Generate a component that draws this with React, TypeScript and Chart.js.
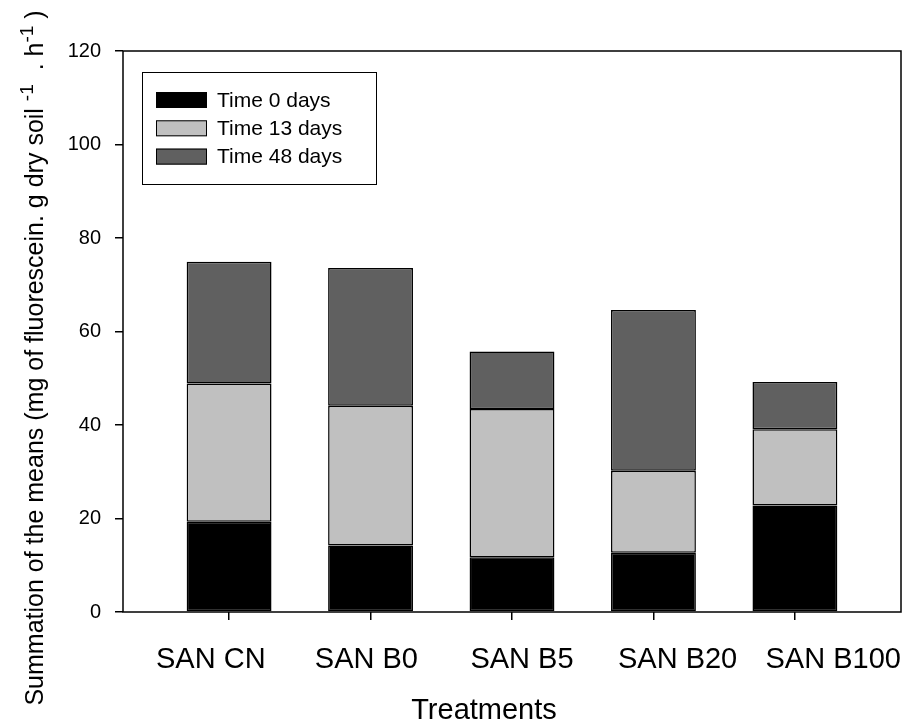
import React, { useEffect, useRef } from "react";
import { Chart, registerables } from "chart.js";

Chart.register(...registerables);

const categories = ["SAN CN", "SAN B0", "SAN B5", "SAN B20", "SAN B100"];
const seriesLabels = ["Time 0 days", "Time 13 days", "Time 48 days"];
const time0 = [19.3, 14.2, 11.7, 12.7, 22.8];
const time13 = [29.6, 29.9, 31.7, 17.5, 16.3];
const time48 = [26.0, 29.5, 12.3, 34.4, 10.1];
const seriesColors = ["#000000", "#c0c0c0", "#606060"];
const yTickValues = [0, 20, 40, 60, 80, 100, 120];
const xTitle = "Treatments";
const yTitleParts = [
  { text: "Summation of the means (mg of fluorescein. g dry soil ", sup: false },
  { text: "-1", sup: true },
  { text: "  . h", sup: false },
  { text: "-1", sup: true },
  { text: " )", sup: false },
];

const FONT = "'Liberation Sans', Arial, Helvetica, sans-serif";

const decorPlugin = {
  id: "decor",
  afterDraw(chart: any) {
    const { ctx, chartArea: a } = chart;
    ctx.save();
    // plot frame
    ctx.strokeStyle = "#000";
    ctx.lineWidth = 1.5;
    ctx.strokeRect(a.left, a.top, a.right - a.left, a.bottom - a.top);

    // legend box
    ctx.lineWidth = 1;
    ctx.strokeRect(142.5, 72.5, 234, 112);
    chart.data.datasets.forEach((ds: any, i: number) => {
      const cy = 100 + i * 28.3;
      ctx.fillStyle = ds.backgroundColor;
      ctx.fillRect(156, cy - 8, 51, 16);
      ctx.lineWidth = 1;
      ctx.strokeStyle = "#000";
      ctx.strokeRect(156.5, cy - 7.5, 50, 15);
      ctx.fillStyle = "#000";
      ctx.font = `21px ${FONT}`;
      ctx.textBaseline = "middle";
      ctx.textAlign = "left";
      ctx.fillText(ds.label, 217, cy + 1);
    });

    // x title
    ctx.fillStyle = "#000";
    ctx.font = `29px ${FONT}`;
    ctx.textAlign = "center";
    ctx.textBaseline = "alphabetic";
    ctx.fillText(xTitle, 484, 719);

    // y title (rotated, with superscripts)
    const base = 25;
    const supSize = 19;
    const widths = yTitleParts.map((p) => {
      ctx.font = `${p.sup ? supSize : base}px ${FONT}`;
      return ctx.measureText(p.text).width;
    });
    const total = widths.reduce((s, w) => s + w, 0);
    ctx.translate(43, 358);
    ctx.rotate(-Math.PI / 2);
    let x = -total / 2;
    ctx.textAlign = "left";
    yTitleParts.forEach((p, i) => {
      ctx.font = `${p.sup ? supSize : base}px ${FONT}`;
      ctx.fillText(p.text, x, p.sup ? -10 : 0);
      x += widths[i];
    });
    ctx.restore();
  },
};

export default function App() {
  const ref = useRef<HTMLCanvasElement>(null);
  useEffect(() => {
    if (!ref.current) return;
    const series = [time0, time13, time48];
    const chart = new Chart(ref.current, {
      type: "bar",
      data: {
        datasets: series.map((vals, s) => ({
          label: seriesLabels[s],
          data: vals.map((v, i) => ({ x: i + 1, y: v })),
          backgroundColor: seriesColors[s],
          borderColor: "#000",
          borderWidth: 1.5,
          borderSkipped: false,
          barPercentage: 0.6,
          categoryPercentage: 1,
          xAxisID: "x",
          yAxisID: "y",
        })),
      },
      options: {
        animation: false,
        responsive: false,
        devicePixelRatio: 1,
        layout: { padding: { top: 51, right: 6, left: 0, bottom: 0 } },
        plugins: {
          legend: { display: false },
          tooltip: { enabled: false },
        },
        scales: {
          x: {
            type: "linear",
            position: "bottom",
            weight: 0,
            stacked: true,
            offset: false,
            min: 0.25,
            max: 5.75,
            afterBuildTicks: (scale: any) => {
              scale.ticks = categories.map((_, i) => ({ value: i + 1 }));
            },
            afterFit: (scale: any) => {
              scale.height = 8;
            },
            ticks: { display: false },
            grid: {
              display: true,
              offset: false,
              drawOnChartArea: false,
              drawTicks: true,
              tickLength: 8,
              color: "#000",
              lineWidth: 1.5,
            },
            border: { display: false },
          },
          xLabels: {
            type: "category",
            position: "bottom",
            weight: 1,
            labels: categories,
            offset: true,
            afterFit: (scale: any) => {
              scale.height = 105;
            },
            ticks: {
              color: "#000",
              font: { family: FONT, size: 29 },
              padding: 15,
              labelOffset: 10,
              maxRotation: 0,
              autoSkip: false,
            },
            grid: { display: false },
            border: { display: false },
          },
          y: {
            type: "linear",
            stacked: true,
            min: 0,
            max: 120,
            afterBuildTicks: (scale: any) => {
              scale.ticks = yTickValues.map((v) => ({ value: v }));
            },
            afterFit: (scale: any) => {
              scale.width = 123;
            },
            ticks: {
              color: "#000",
              font: { family: FONT, size: 20 },
              padding: 14,
            },
            grid: {
              display: true,
              drawOnChartArea: false,
              drawTicks: true,
              tickLength: 8,
              color: "#000",
              lineWidth: 1.5,
            },
            border: { display: false },
          },
        },
      } as any,
      plugins: [decorPlugin],
    });
    return () => chart.destroy();
  }, []);
  return (
    <canvas
      ref={ref}
      width={907}
      height={725}
      style={{ position: "absolute", left: 0, top: 0, display: "block" }}
    />
  );
}
